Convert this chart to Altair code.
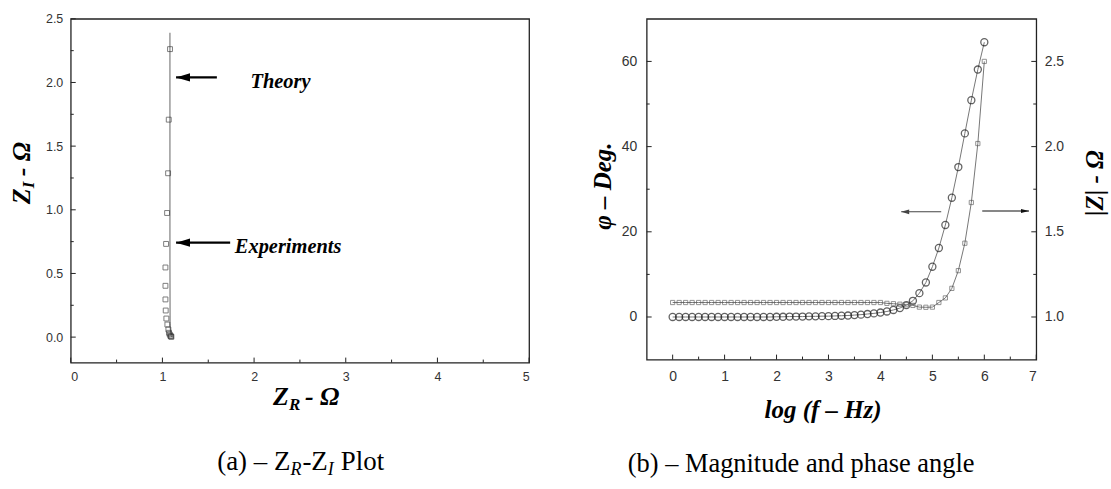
import altair as alt
import pandas as pd

# ---------------- Panel (a): Z_R - Z_I plot ----------------
zr_exp = [1.083, 1.069, 1.062, 1.051, 1.040, 1.033, 1.033, 1.033, 1.036, 1.043,
          1.054, 1.065, 1.072, 1.080, 1.087, 1.094, 1.098]
zi_exp = [2.262, 1.708, 1.287, 0.975, 0.732, 0.547, 0.403, 0.296, 0.209, 0.146,
          0.099, 0.060, 0.034, 0.021, 0.010, 0.005, 0.003]
zr_theory = [1.098, 1.090, 1.084, 1.082, 1.082, 1.082]
zi_theory = [0.0, 0.03, 0.10, 0.60, 1.50, 2.39]

a_note_text = ["Theory", "Experiments"]
a_note_x = [1.96, 1.79]
a_note_y = [1.96, 0.661]
a_arrow_tail = [1.594, 1.739]
a_arrow_tip = [1.149, 1.149]
a_arrow_y = [2.04, 0.742]

a_x_major = [0, 1, 2, 3, 4, 5]
a_x_minor = [0.5, 1.5, 2.5, 3.5, 4.5]
a_y_major = [0.0, 0.5, 1.0, 1.5, 2.0, 2.5]
a_y_minor = [0.25, 0.75, 1.25, 1.75, 2.25]

# ---------------- Panel (b): magnitude and phase ----------------
log_f = [0.0, 0.125, 0.25, 0.375, 0.5, 0.625, 0.75, 0.875, 1.0, 1.125, 1.25, 1.375,
         1.5, 1.625, 1.75, 1.875, 2.0, 2.125, 2.25, 2.375, 2.5, 2.625, 2.75, 2.875,
         3.0, 3.125, 3.25, 3.375, 3.5, 3.625, 3.75, 3.875, 4.0, 4.125, 4.25, 4.375,
         4.5, 4.625, 4.75, 4.875, 5.0, 5.125, 5.25, 5.375, 5.5, 5.625, 5.75, 5.875, 6.0]
phase_deg = [0.0, 0.0, 0.0, 0.0, 0.0, 0.0, 0.0, 0.0, 0.0, 0.0, 0.0, 0.0,
             0.0, 0.0, 0.0, 0.0, 0.05, 0.05, 0.1, 0.1, 0.1, 0.15, 0.15, 0.2,
             0.2, 0.25, 0.3, 0.35, 0.45, 0.55, 0.7, 0.85, 1.05, 1.3, 1.65, 2.1,
             2.8, 3.8, 5.6, 8.1, 11.8, 16.2, 21.6, 28.0, 35.2, 43.1, 50.9, 58.1, 64.5]
mag_ohm = [1.085, 1.085, 1.085, 1.085, 1.085, 1.085, 1.085, 1.085, 1.085, 1.085, 1.085,
           1.085, 1.085, 1.085, 1.085, 1.085, 1.085, 1.085, 1.085, 1.085, 1.085, 1.085,
           1.085, 1.085, 1.085, 1.085, 1.085, 1.085, 1.085, 1.085, 1.085, 1.085, 1.085,
           1.080, 1.078, 1.075, 1.072, 1.068, 1.058, 1.057, 1.058, 1.085, 1.112, 1.168,
           1.272, 1.433, 1.672, 2.018, 2.5]

b_arrow_tail = [5.17, 5.96]
b_arrow_tip = [4.40, 6.86]
b_arrow_phi = [24.7, 24.9]

b_x_major = [0, 1, 2, 3, 4, 5, 6, 7]
b_x_minor = [0.5, 1.5, 2.5, 3.5, 4.5, 5.5, 6.5]
b_phi_major = [0, 20, 40, 60]
b_phi_minor = [10, 30, 50]
b_mag_major = [1.0, 1.5, 2.0, 2.5]
b_mag_minor = [1.25, 1.75, 2.25]

# ---------------- helpers ----------------
SERIF = "Liberation Serif"
SANS = "Liberation Sans"
dummy = pd.DataFrame({"k": [0]})


def label(text, x, y, size, angle=0, align="left", baseline="alphabetic",
          style="italic", weight="bold", color="black", font=SERIF):
    return alt.Chart(dummy).mark_text(
        text=text, fontSize=size, fontStyle=style, fontWeight=weight,
        angle=angle, align=align, baseline=baseline, font=font, color=color
    ).encode(x=alt.value(x), y=alt.value(y))


def bounds_rect(x1, x2, y1, y2):
    return alt.Chart(dummy).mark_rect(opacity=0).encode(
        x=alt.value(x1), x2=alt.value(x2), y=alt.value(y1), y2=alt.value(y2))


LEFT_ARROW = "M0,0L2,-0.6L2,0.6Z"
RIGHT_ARROW = "M0,0L-2,-0.5L-2,0.5Z"

# ---------------- Panel (a) chart ----------------
AW, AH = 460, 345
ax_scale = alt.Scale(domain=[0, 5], nice=False, zero=False)
ay_scale = alt.Scale(domain=[-0.2, 2.5], nice=False, zero=False)
ax_axis = alt.Axis(values=a_x_major, format="d", ticks=False, domain=False, grid=False,
                   title=None, labelFont=SANS, labelFontSize=12.5, labelColor="#333",
                   labelPadding=8)
ay_axis = alt.Axis(values=a_y_major, format=".1f", ticks=False, domain=False, grid=False,
                   title=None, labelFont=SANS, labelFontSize=12.5, labelColor="#333",
                   labelPadding=8)


def AX(f):
    return alt.X(f, type="quantitative", scale=ax_scale, axis=ax_axis)


def AY(f):
    return alt.Y(f, type="quantitative", scale=ay_scale, axis=ay_axis)


exp_df = pd.DataFrame({"zr": zr_exp, "zi": zi_exp})
th_df = pd.DataFrame({"zr": zr_theory, "zi": zi_theory, "o": range(len(zr_theory))})
note_df = pd.DataFrame({"t": a_note_text, "x": a_note_x, "y": a_note_y})
arr_df = pd.DataFrame({"tail": a_arrow_tail, "tip": a_arrow_tip, "y": a_arrow_y})

cap = dict(style="normal", weight="normal")
sub = dict(style="italic", weight="normal")
a_layers = [
    bounds_rect(-70, 490, -17, 472),
    alt.Chart(th_df).mark_line(color="#8a8a8a", strokeWidth=1.3).encode(
        x=AX("zr"), y=AY("zi"), order="o:Q"),
    alt.Chart(exp_df).mark_point(shape="square", size=24, filled=False,
                                 color="#333", strokeWidth=0.9).encode(
        x=AX("zr"), y=AY("zi")),
    alt.Chart(pd.DataFrame({"v": a_x_major})).mark_rule(color="#222").encode(
        x=AX("v"), y=alt.value(AH), y2=alt.value(AH - 5)),
    alt.Chart(pd.DataFrame({"v": a_x_minor})).mark_rule(color="#222").encode(
        x=AX("v"), y=alt.value(AH), y2=alt.value(AH - 3)),
    alt.Chart(pd.DataFrame({"v": a_y_major})).mark_rule(color="#222").encode(
        y=AY("v"), x=alt.value(0), x2=alt.value(5)),
    alt.Chart(pd.DataFrame({"v": a_y_minor})).mark_rule(color="#222").encode(
        y=AY("v"), x=alt.value(0), x2=alt.value(3)),
    alt.Chart(arr_df).mark_rule(color="black", strokeWidth=2.2).encode(
        x=AX("tail"), x2="tip", y=AY("y")),
    alt.Chart(arr_df).mark_point(shape=LEFT_ARROW, size=196, filled=True,
                                 color="black", opacity=1).encode(
        x=AX("tip"), y=AY("y")),
    alt.Chart(note_df).mark_text(font=SERIF, fontSize=20.5, fontStyle="italic",
                                 fontWeight="bold", align="left",
                                 baseline="alphabetic", color="black").encode(
        x=AX("x"), y=AY("y"), text="t:N"),
    # x title  Z_R - Ω
    label("Z", 203, 388, 26),
    label("R", 219, 393, 17),
    label("- Ω", 235, 388, 26),
    # y title  Z_I - Ω (rotated)
    label("Z", -41, 186, 26, angle=270),
    label("I", -37, 170, 17, angle=270),
    label("- Ω", -41, 158, 26, angle=270),
    # caption (a) – Z_R-Z_I Plot
    label("(a) – Z", 147, 453, 27, **cap),
    label("R", 220.5, 458, 18, **sub),
    label("-Z", 232.5, 453, 27, **cap),
    label("I", 258, 458, 18, **sub),
    label("Plot", 271, 453, 27, **cap),
]
panel_a = alt.layer(*a_layers).properties(width=AW, height=AH)

# ---------------- Panel (b) chart ----------------
BW, BH = 391, 342
bx_scale = alt.Scale(domain=[-0.5, 7], nice=False, zero=False)
phi_scale = alt.Scale(domain=[-10, 70], nice=False, zero=False)
mag_scale = alt.Scale(domain=[0.75, 2.75], nice=False, zero=False)
bx_axis = alt.Axis(values=b_x_major, format="d", ticks=False, domain=False, grid=False,
                   title=None, labelFont=SANS, labelFontSize=14, labelColor="#333",
                   labelPadding=10)
phi_axis = alt.Axis(values=b_phi_major, format="d", ticks=False, domain=False, grid=False,
                    title=None, labelFont=SANS, labelFontSize=14, labelColor="#333",
                    labelPadding=10, orient="left")
mag_axis = alt.Axis(values=b_mag_major, format=".1f", ticks=False, domain=False, grid=False,
                    title=None, labelFont=SANS, labelFontSize=14, labelColor="#333",
                    labelPadding=8, orient="right")


def BX(f):
    return alt.X(f, type="quantitative", scale=bx_scale, axis=bx_axis)


def PY(f):
    return alt.Y(f, type="quantitative", scale=phi_scale, axis=phi_axis)


def MY(f):
    return alt.Y(f, type="quantitative", scale=mag_scale, axis=mag_axis)


b_df = pd.DataFrame({"lf": log_f, "phi": phase_deg, "mag": mag_ohm})
barr_l = pd.DataFrame({"tail": b_arrow_tail[:1], "tip": b_arrow_tip[:1], "y": b_arrow_phi[:1]})
barr_r = pd.DataFrame({"tail": b_arrow_tail[1:], "tip": b_arrow_tip[1:], "y": b_arrow_phi[1:]})

phi_group = alt.layer(
    bounds_rect(-86, 465, -15, 474),
    alt.Chart(b_df).mark_line(color="#777", strokeWidth=1).encode(x=BX("lf"), y=PY("phi")),
    alt.Chart(b_df).mark_point(shape="circle", size=50, filled=False, color="#222",
                               strokeWidth=1.3).encode(x=BX("lf"), y=PY("phi")),
    alt.Chart(pd.DataFrame({"v": b_x_major})).mark_rule(color="#222").encode(
        x=BX("v"), y=alt.value(BH), y2=alt.value(BH - 5)),
    alt.Chart(pd.DataFrame({"v": b_x_minor})).mark_rule(color="#222").encode(
        x=BX("v"), y=alt.value(BH), y2=alt.value(BH - 3)),
    alt.Chart(pd.DataFrame({"v": b_phi_major})).mark_rule(color="#222").encode(
        y=PY("v"), x=alt.value(0), x2=alt.value(5)),
    alt.Chart(pd.DataFrame({"v": b_phi_minor})).mark_rule(color="#222").encode(
        y=PY("v"), x=alt.value(0), x2=alt.value(3)),
    alt.Chart(barr_l).mark_rule(color="#444", strokeWidth=1.1).encode(
        x=BX("tail"), x2="tip", y=PY("y")),
    alt.Chart(barr_l).mark_point(shape=LEFT_ARROW, size=64, filled=True, color="#444",
                                 opacity=1).encode(x=BX("tip"), y=PY("y")),
    alt.Chart(barr_r).mark_rule(color="#111", strokeWidth=1.1).encode(
        x=BX("tail"), x2="tip", y=PY("y")),
    alt.Chart(barr_r).mark_point(shape=RIGHT_ARROW, size=64, filled=True, color="#111",
                                 opacity=1).encode(x=BX("tip"), y=PY("y")),
    label("log (f – Hz)", 177, 401, 25, align="center"),
    label("φ – Deg.", -44, 168, 25, angle=270, align="center", baseline="middle"),
    label("|Z| - Ω", 450, 165, 25, angle=270, align="center", baseline="middle"),
    label("(b) – Magnitude and phase angle", 155, 455, 26.5, align="center", **cap),
)

mag_group = alt.layer(
    alt.Chart(b_df).mark_line(color="#777", strokeWidth=1).encode(x=BX("lf"), y=MY("mag")),
    alt.Chart(b_df).mark_point(shape="square", size=18, filled=False, color="#555",
                               strokeWidth=0.9).encode(x=BX("lf"), y=MY("mag")),
    alt.Chart(pd.DataFrame({"v": b_mag_major})).mark_rule(color="#222").encode(
        y=MY("v"), x=alt.value(BW), x2=alt.value(BW - 5)),
    alt.Chart(pd.DataFrame({"v": b_mag_minor})).mark_rule(color="#222").encode(
        y=MY("v"), x=alt.value(BW), x2=alt.value(BW - 3)),
)

panel_b = alt.layer(phi_group, mag_group).resolve_scale(y="independent").resolve_axis(
    y="independent").properties(width=BW, height=BH)

chart = alt.hconcat(panel_a, panel_b, spacing=0).properties(
    padding=0, autosize=alt.AutoSizeParams(type="pad"), background="white"
).configure_view(stroke="#222", strokeWidth=1.3)

chart.save("out.html", embed_options={"renderer": "svg", "actions": False})
